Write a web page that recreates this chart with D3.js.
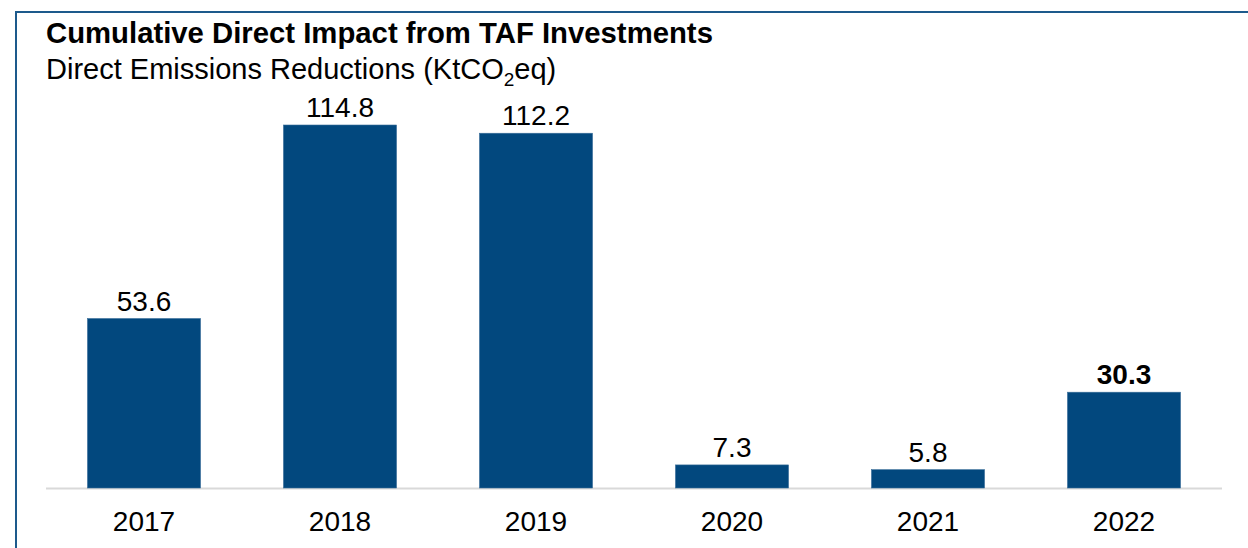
<!DOCTYPE html>
<html>
<head>
<meta charset="utf-8">
<script src="https://cdn.jsdelivr.net/npm/d3@7"></script>
<style>
  body { margin: 0; background: #fff; }
  svg { display: block; font-family: "Liberation Sans", Arial, sans-serif; }
</style>
</head>
<body>
<div id="chart"></div>
<script>
var years = ["2017", "2018", "2019", "2020", "2021", "2022"];
var reductions = [53.6, 114.8, 112.2, 7.3, 5.8, 30.3];
var boldYears = ["2022"];

var width = 1248, height = 548;
var baseY = 488, left = 46, right = 1222;

var svg = d3.select("#chart").append("svg")
    .attr("width", width)
    .attr("height", height);

// frame
svg.append("path")
    .attr("d", "M16,548 V12 H1248")
    .attr("fill", "none")
    .attr("stroke", "#1d5a8c")
    .attr("stroke-width", 2);

// titles
svg.append("text")
    .attr("x", left).attr("y", 43)
    .attr("font-size", 29.3).attr("font-weight", "bold")
    .text("Cumulative Direct Impact from TAF Investments");

var sub = svg.append("text")
    .attr("x", left).attr("y", 79)
    .attr("font-size", 29);
sub.append("tspan").text("Direct Emissions Reductions (KtCO");
sub.append("tspan").attr("font-size", 19).attr("dy", 7).text("2");
sub.append("tspan").attr("dy", -7).text("eq)");

var x = d3.scaleBand()
    .domain(years)
    .range([left, right])
    .paddingInner(0.423)
    .paddingOuter(0.2115);

var y = d3.scaleLinear()
    .domain([0, 114.8])
    .range([baseY, 125]);

var data = years.map(function(d, i) { return { year: d, value: reductions[i] }; });

// baseline
svg.append("line")
    .attr("x1", left).attr("x2", right)
    .attr("y1", baseY + 0.5).attr("y2", baseY + 0.5)
    .attr("stroke", "#d9d9d9")
    .attr("stroke-width", 2);

svg.selectAll("rect.bar")
    .data(data)
    .enter().append("rect")
    .attr("class", "bar")
    .attr("x", function(d) { return x(d.year); })
    .attr("y", function(d) { return y(d.value); })
    .attr("width", x.bandwidth())
    .attr("height", function(d) { return baseY - y(d.value); })
    .attr("fill", "#02487e")
    .attr("stroke", "#3a6e9a")
    .attr("stroke-width", 0.6);

svg.selectAll("text.val")
    .data(data)
    .enter().append("text")
    .attr("class", "val")
    .attr("x", function(d) { return x(d.year) + x.bandwidth() / 2; })
    .attr("y", function(d) { return y(d.value) - 8; })
    .attr("text-anchor", "middle")
    .attr("font-size", 28)
    .attr("font-weight", function(d) { return boldYears.indexOf(d.year) >= 0 ? "bold" : "normal"; })
    .text(function(d) { return d.value.toFixed(1); });

var axis = svg.append("g")
    .attr("transform", "translate(0," + baseY + ")")
    .call(d3.axisBottom(x).tickSize(0).tickPadding(0));
axis.select(".domain").remove();
axis.selectAll("text")
    .attr("y", 43)
    .attr("dy", 0)
    .attr("font-size", 28)
    .attr("font-family", "Liberation Sans, Arial, sans-serif")
    .attr("fill", "#000");
</script>
</body>
</html>
